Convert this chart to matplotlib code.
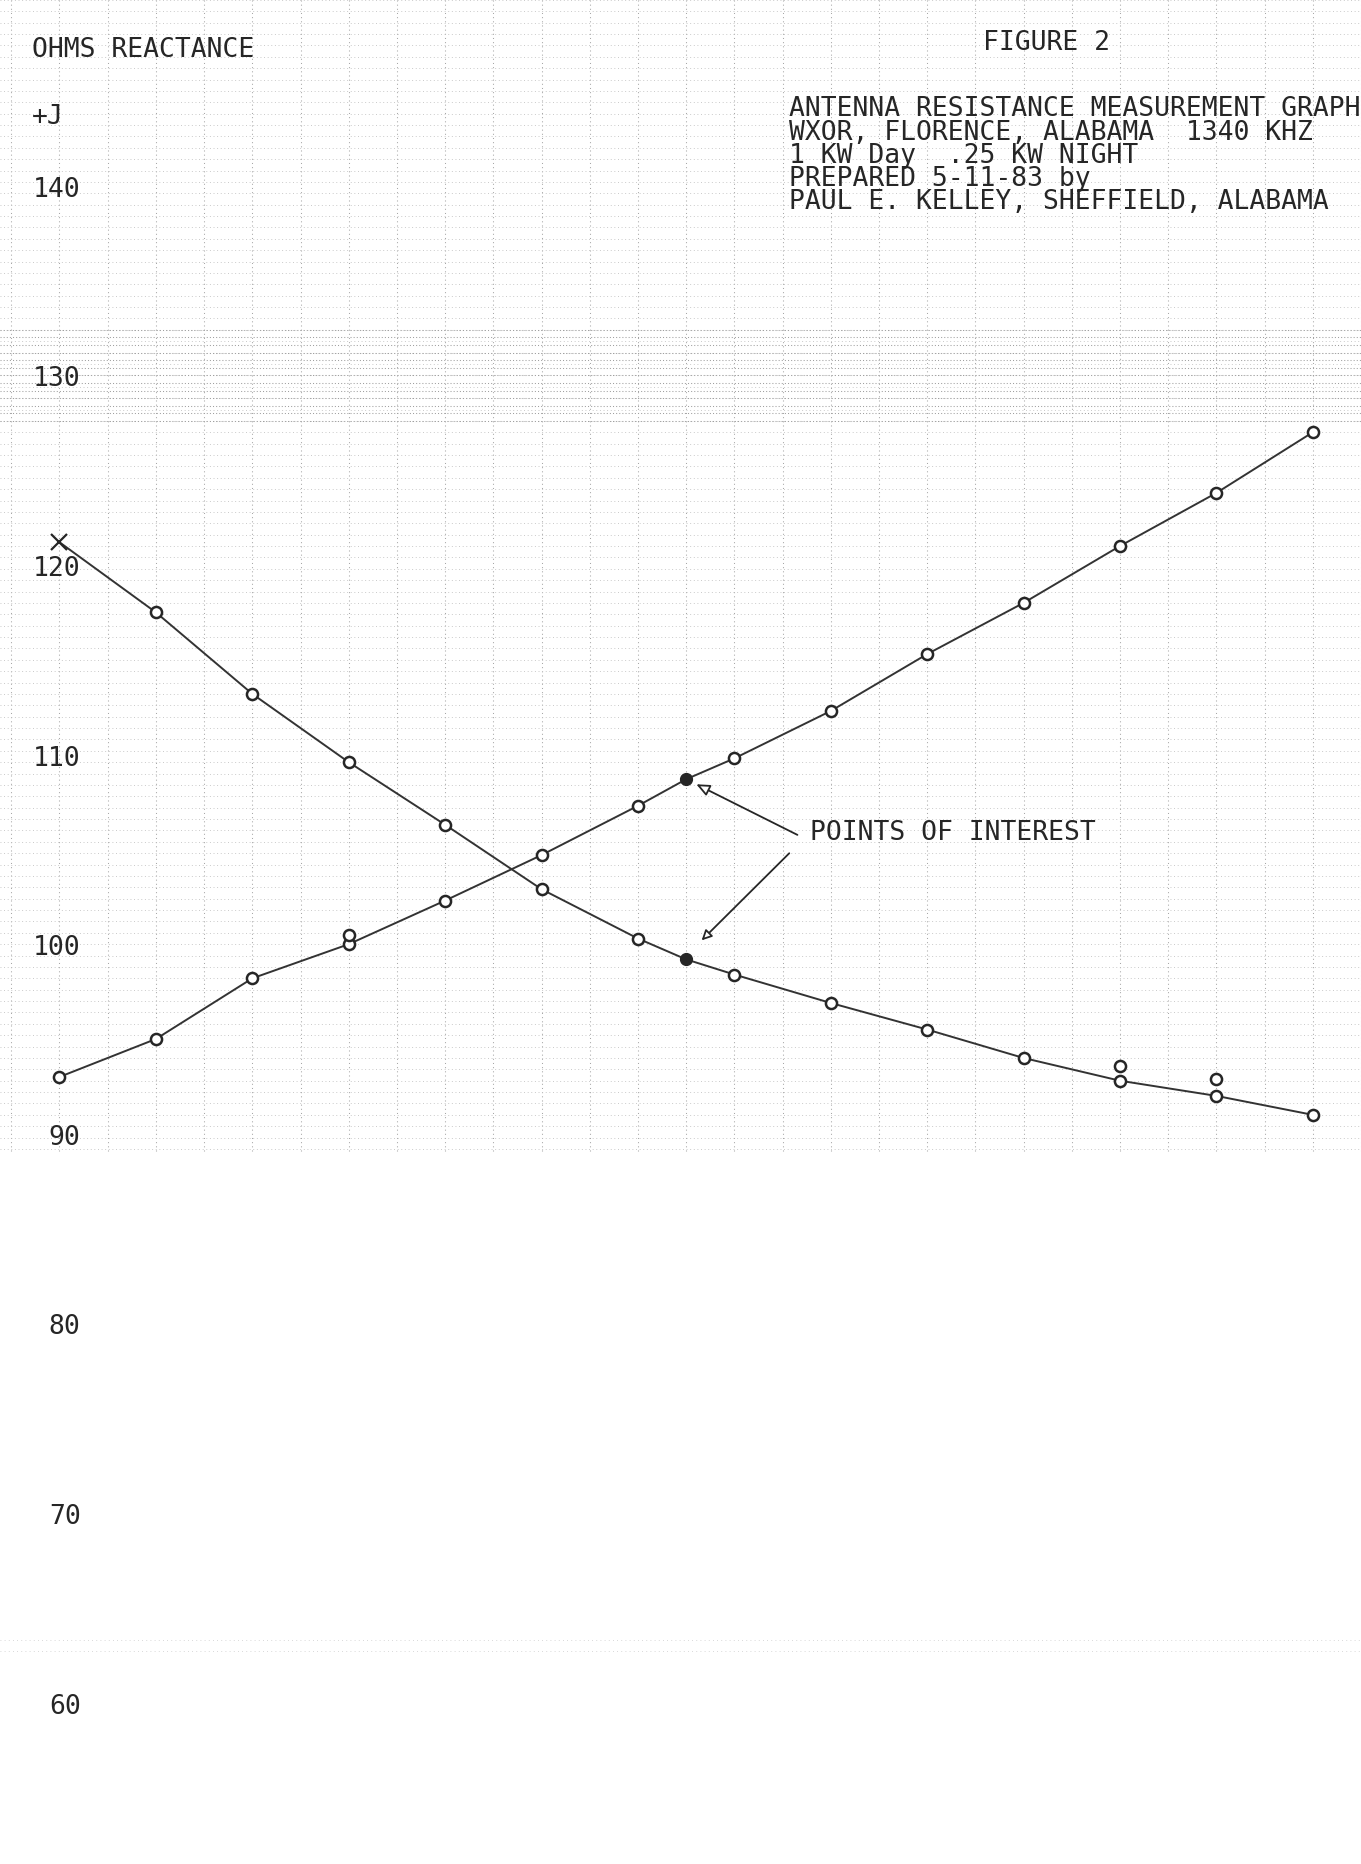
import matplotlib
matplotlib.use("Agg")
import matplotlib.pyplot as plt
import numpy as np

# ---- data ----
x_steps = [0, 1, 2, 3, 4, 5, 6, 6.5, 7, 8, 9, 10, 11, 12, 13]
rising = [93.0, 95.0, 98.2, 100.0, 102.3, 104.7, 107.3, 108.7, 109.8,
          112.3, 115.3, 118.0, 121.0, 123.8, 127.0]
falling = [121.2, 117.5, 113.2, 109.6, 106.3, 102.9, 100.3, 99.2, 98.4,
           96.9, 95.5, 94.0, 92.8, 92.0, 91.0]
extra_x = [3, 11, 12]
extra_y = [100.5, 93.6, 92.9]
interest_idx = 7
y_ticks = [140, 130, 120, 110, 100, 90, 80, 70, 60]
y_ticklabels = [str(v) for v in y_ticks]

title_lines = ["ANTENNA RESISTANCE MEASUREMENT GRAPH",
               "WXOR, FLORENCE, ALABAMA  1340 KHZ",
               "1 KW Day  .25 KW NIGHT",
               "PREPARED 5-11-83 by",
               "PAUL E. KELLEY, SHEFFIELD, ALABAMA"]

W, H = 1361, 1865
plt.rcParams['font.family'] = ['DejaVu Sans Mono', 'DejaVu Sans']
fig = plt.figure(figsize=(W / 100, H / 100), dpi=100)
fig.patch.set_facecolor('white')
ax = fig.add_axes([0, 0, 1, 1])
ax.set_xlim(-0.617, 13.50)
ax.set_ylim(51.49, 149.85)
for s in ax.spines.values():
    s.set_visible(False)
ax.set_xticks([])

ink = '#262626'
FS = 19

# ---- dotted graph-paper grid (upper part) ----
gx = np.arange(-0.5, 13.51, 0.5)
ax.vlines(gx, 89.1, 149.85, colors='#a8a8a8', linewidth=0.75,
          linestyles=(0, (1, 3)), zorder=0)
gy = np.arange(89.2, 149.9, 0.6)
ax.hlines(gy, -0.617, 13.5, colors='#c2c2c2', linewidth=0.65,
          linestyles=(0, (1, 3)), zorder=0)
gy2 = np.arange(127.6, 132.4, 0.4)
ax.hlines(gy2, -0.617, 13.5, colors='#a0a0a0', linewidth=0.75,
          linestyles=(0, (1, 2)), zorder=0)
ax.hlines([62.7, 63.3], -0.617, 13.5, colors='#cccccc', linewidth=0.6,
          linestyles=(0, (1, 4)), zorder=0)

# ---- curves ----
ax.plot(x_steps, rising, color='#333333', lw=1.4, zorder=2)
ax.plot(x_steps, falling, color='#333333', lw=1.4, zorder=2)

def open_pts(xs, ys):
    ax.plot(xs, ys, 'o', ms=8, mfc='white', mec=ink, mew=1.8, zorder=3)

open_pts([x for i, x in enumerate(x_steps) if i != interest_idx],
         [y for i, y in enumerate(rising) if i != interest_idx])
open_pts([x for i, x in enumerate(x_steps) if i not in (0, interest_idx)],
         [y for i, y in enumerate(falling) if i not in (0, interest_idx)])
ax.plot([x_steps[0]], [falling[0]], 'x', ms=11, mec=ink, mew=1.6, zorder=3)
open_pts(extra_x, extra_y)
ax.plot([x_steps[interest_idx]] * 2,
        [rising[interest_idx], falling[interest_idx]], 'o', ms=8.5,
        mfc=ink, mec=ink, zorder=3)

# ---- annotation ----
ax.text(7.78, 105.9, "POINTS OF INTEREST", fontsize=FS, color=ink,
        ha='left', va='center')
ax.annotate('', xy=(6.58, 108.5), xytext=(7.68, 105.7),
            arrowprops=dict(arrowstyle='-|>,head_length=0.8,head_width=0.35',
                            color=ink, lw=1.3, fc='white'))
ax.annotate('', xy=(6.64, 100.1), xytext=(7.59, 104.9),
            arrowprops=dict(arrowstyle='-|>,head_length=0.6,head_width=0.3',
                            color=ink, lw=1.3, fc='white'))

# ---- y tick labels inside ----
ax.set_yticks(y_ticks)
ax.set_yticklabels(y_ticklabels)
ax.tick_params(axis='y', length=0, pad=-58, labelsize=FS, labelcolor=ink)

# ---- header texts ----
def ftext(px, py, s, **kw):
    fig.text(px / W, 1 - py / H, s, fontsize=FS, color=ink,
             ha='left', va='center', **kw)

ftext(32, 50, "OHMS REACTANCE")
ftext(32, 117, "+J")
ftext(983, 43, "FIGURE 2")
for i, line in enumerate(title_lines):
    ftext(789, 109.5 + i * 23.2, line)

fig.savefig("out.png", dpi=100, facecolor='white')
